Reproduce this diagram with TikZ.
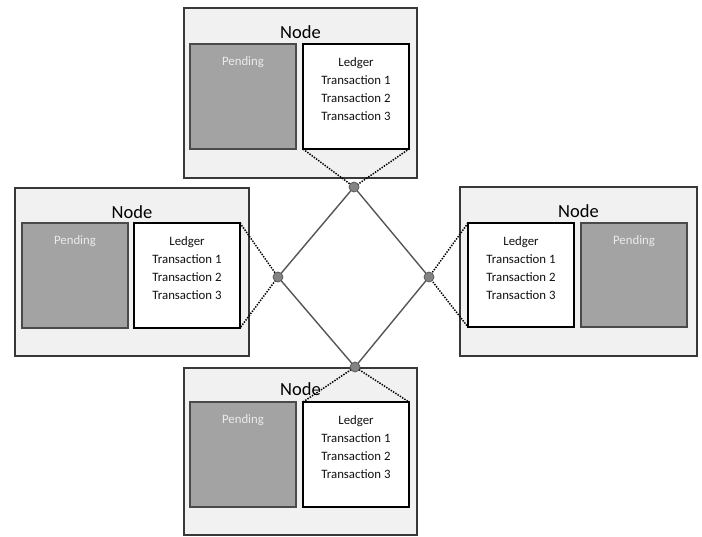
\documentclass[tikz,border=0pt]{standalone}
\usepackage{fontspec}
\setmainfont{Carlito}
\definecolor{framegray}{HTML}{383838}
\definecolor{panelgray}{HTML}{F1F1F1}
\definecolor{pendfill}{HTML}{A3A3A3}
\definecolor{penddraw}{HTML}{4A4A4A}
\definecolor{linkgray}{HTML}{555555}
\definecolor{hubfill}{HTML}{838383}
\definecolor{inktext}{HTML}{111111}
\begin{document}
\begin{tikzpicture}[x=1pt,y=-1pt,
  outerbox/.style={draw=framegray,fill=panelgray,line width=1.4pt,anchor=north west,inner sep=0,outer sep=0},
  pendbox/.style={draw=penddraw,fill=pendfill,line width=1.1pt,anchor=north west,inner sep=0,outer sep=0,minimum width=106pt,minimum height=105pt},
  ledgerbox/.style={draw=black,fill=white,line width=1.5pt,anchor=north west,inner sep=0,outer sep=0,minimum width=106pt,minimum height=105pt},
  nodetitle/.style={font=\fontsize{18.5}{20}\selectfont,text=black,inner sep=0},
  ledgertext/.style={anchor=north,inner sep=0,align=center,text=inktext,font=\fontsize{12.8}{18.3}\selectfont,yshift=-13pt},
  pendtext/.style={anchor=north,inner sep=0,text=white!92!black,font=\fontsize{12.8}{15}\selectfont,yshift=-12pt},
  link/.style={draw=linkgray,line width=1.4pt},
  tether/.style={draw=black,line width=1.5pt,dash pattern=on 1.4pt off 1.3pt},
  hub/.style={circle,fill=hubfill,draw=linkgray,line width=0.7pt,minimum size=10pt,inner sep=0}
]
\useasboundingbox (0,0) rectangle (702,536);

% top peer
\node[outerbox,minimum width=233pt,minimum height=170pt] (tOut) at (184,8) {};
\node[nodetitle] (tTitle) at ([yshift=-24pt]tOut.north) {Node};
\node[pendbox] (tPend) at (190,44) {};
\node[pendtext] (tPendT) at (tPend.north) {Pending};
\node[ledgerbox] (tLed) at (303,44) {};
\node[ledgertext] (tLedT) at (tLed.north) {Ledger\\Transaction 1\\Transaction 2\\Transaction 3};

% left peer
\node[outerbox,minimum width=234pt,minimum height=168pt] (lOut) at (15,188) {};
\node[nodetitle] (lTitle) at ([yshift=-24pt]lOut.north) {Node};
\node[pendbox] (lPend) at (22,223) {};
\node[pendtext] (lPendT) at (lPend.north) {Pending};
\node[ledgerbox] (lLed) at (134,223) {};
\node[ledgertext] (lLedT) at (lLed.north) {Ledger\\Transaction 1\\Transaction 2\\Transaction 3};

% right peer
\node[outerbox,minimum width=237pt,minimum height=169pt] (rOut) at (460,187) {};
\node[nodetitle] (rTitle) at ([yshift=-24pt]rOut.north) {Node};
\node[ledgerbox,minimum height=104pt] (rLed) at (468,223) {};
\node[ledgertext] (rLedT) at (rLed.north) {Ledger\\Transaction 1\\Transaction 2\\Transaction 3};
\node[pendbox,minimum height=104pt] (rPend) at (581,223) {};
\node[pendtext] (rPendT) at (rPend.north) {Pending};

% bottom peer
\node[outerbox,minimum width=233pt,minimum height=167pt] (bOut) at (184,368) {};
\node[nodetitle] (bTitle) at ([yshift=-21pt]bOut.north) {Node};
\node[pendbox] (bPend) at (190,402) {};
\node[pendtext] (bPendT) at (bPend.north) {Pending};
\node[ledgerbox] (bLed) at (303,402) {};
\node[ledgertext] (bLedT) at (bLed.north) {Ledger\\Transaction 1\\Transaction 2\\Transaction 3};

% network hubs
\coordinate (hT) at (354,187);
\coordinate (hL) at (278,277);
\coordinate (hR) at (429,277);
\coordinate (hB) at (355,367);

% ring of links
\draw[link] (hT) -- (hR) -- (hB) -- (hL) -- cycle;

% ledger tethers
\draw[tether] (tLed.south west) -- (hT) -- (tLed.south east);
\draw[tether] (lLed.north east) -- (hL) -- (lLed.south east);
\draw[tether] (rLed.north west) -- (hR) -- (rLed.south west);
\draw[tether] (bLed.north west) -- (hB) -- (bLed.north east);

% hub dots
\node[hub] (dT) at (hT) {};
\node[hub] (dL) at (hL) {};
\node[hub] (dR) at (hR) {};
\node[hub] (dB) at (hB) {};
\end{tikzpicture}
\end{document}
